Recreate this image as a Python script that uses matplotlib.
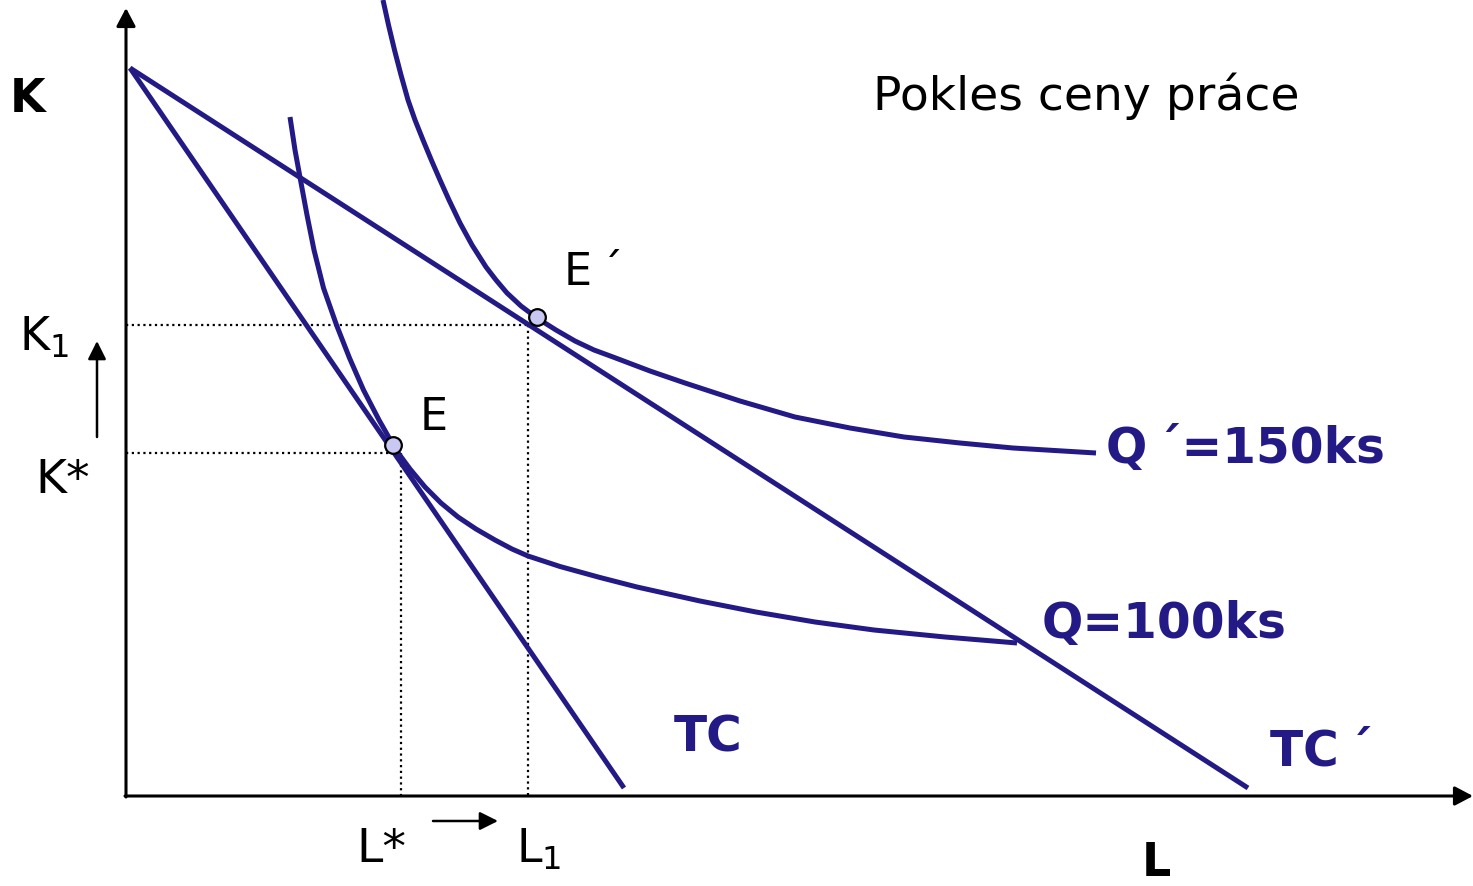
import numpy as np
import matplotlib
matplotlib.use("Agg")
import matplotlib.pyplot as plt

plt.rcParams['font.family'] = ['DejaVu Sans']
plt.rcParams['mathtext.default'] = 'regular'

navy = '#231a86'

# picture is drawn in pixel units: x to the right, y downwards
origin = (126, 796)
x_end, y_end = 1473, 8

# budget lines (start on K axis, end near L axis)
tc_x = [130, 624]
tc_y = [68, 788]
tc2_x = [130, 1248]
tc2_y = [68, 788]

# isoquant Q = 100 ks
q100_x = [290, 295, 300.5, 307, 314, 323.5, 336.5, 349.5, 363.5, 379, 396, 410, 425, 441, 458, 476, 495, 512,
          528, 560, 600, 637, 700, 756, 815, 874, 945, 1017]
q100_y = [117, 150, 180, 215, 250, 288, 325, 358, 390, 420, 450, 469, 487, 503, 517, 529, 540, 549,
          556, 566.5, 577.5, 587, 601, 612, 622, 630, 637, 643]

# isoquant Q' = 150 ks
q150_x = [383, 388.5, 394.5, 401, 408, 415, 423, 431.3, 440, 449, 460, 472, 486, 496, 507, 521, 537,
          556, 575, 594, 613, 650, 685, 740, 795, 850, 904, 960, 1013, 1096]
q150_y = [0, 25, 50, 75, 100, 120, 140, 160, 180, 200, 223, 245, 267, 280, 293, 306, 318,
          330, 341, 350, 357, 371, 383, 401, 417, 428, 437, 443, 448, 453]

# equilibria E, E'
eq_x = [393, 537]
eq_y = [445, 317]
eq_names = ['E', 'E\u2009\u00b4']

fig = plt.figure(figsize=(14.73, 8.86), dpi=100)
ax = fig.add_axes([0, 0, 1, 1])
ax.set_xlim(0, 1473)
ax.set_ylim(886, 0)
ax.axis('off')

# axes with arrow heads
arrow_kw = dict(arrowstyle='-|>,head_length=11,head_width=5.8', color='black',
                lw=2.2, shrinkA=0, shrinkB=0, mutation_scale=1)
ax.annotate('', xy=(origin[0], y_end), xytext=(origin[0], origin[1] + 1), arrowprops=arrow_kw)
ax.annotate('', xy=(x_end, origin[1]), xytext=(origin[0] - 1, origin[1]), arrowprops=arrow_kw)

# dotted guides
dot_kw = dict(color='black', lw=1.6, ls=(0, (1, 1.6)))
ax.plot([origin[0], 528], [325, 325], **dot_kw)
ax.plot([528, 528], [325, origin[1]], **dot_kw)
ax.plot([origin[0], 400], [453, 453], **dot_kw)
ax.plot([401, 401], [453, origin[1]], **dot_kw)

# curves
line_kw = dict(color=navy, lw=3.6, solid_capstyle='butt', solid_joinstyle='round')
ax.plot(tc_x, tc_y, **line_kw)
ax.plot(tc2_x, tc2_y, **line_kw)
ax.plot(q100_x, q100_y, **line_kw)
ax.plot(q150_x, q150_y, **line_kw)

ax.plot(eq_x, eq_y, 'o', ms=12, mfc='#c8c8f2', mec='black', mew=1.6, zorder=5)

# small arrows for shifts
small_kw = dict(arrowstyle='-|>,head_length=11,head_width=5.5', color='black',
                lw=1.8, shrinkA=0, shrinkB=0, mutation_scale=1)
ax.annotate('', xy=(97, 341), xytext=(97, 437), arrowprops=small_kw)
ax.annotate('', xy=(498, 821), xytext=(433, 821), arrowprops=small_kw)

# texts
bold = dict(fontweight='bold', ha='left')
reg = dict(va='baseline', ha='left', color='black')
ax.text(10, 112, 'K', fontsize=33, color='black', va='baseline', **bold)
ax.text(1142, 886, 'L', fontsize=33, color='black', va='bottom', **bold)
ax.text(873, 110, 'Pokles ceny pr\u00e1ce', fontsize=34, **reg)

ax.text(eq_x[1] + 27, 285, eq_names[1], fontsize=32, **reg)
ax.text(eq_x[0] + 27, 430, eq_names[0], fontsize=32, **reg)

ax.text(19, 350, 'K$_1$', fontsize=33, **reg)
ax.text(35, 493, 'K*', fontsize=34, **reg)
ax.text(356, 862, 'L*', fontsize=34, **reg)
ax.text(516, 862, 'L$_1$', fontsize=33, **reg)

ax.text(1106, 463, 'Q\u2009\u00b4=150ks', fontsize=35, color=navy, va='baseline', **bold)
ax.text(1042, 638, 'Q=100ks', fontsize=35, color=navy, va='baseline', **bold)
ax.text(674, 751, 'TC', fontsize=35, color=navy, va='baseline', **bold)
ax.text(1270, 766, 'TC\u2009\u00b4', fontsize=35, color=navy, va='baseline', **bold)

fig.savefig('out.png', dpi=100)
